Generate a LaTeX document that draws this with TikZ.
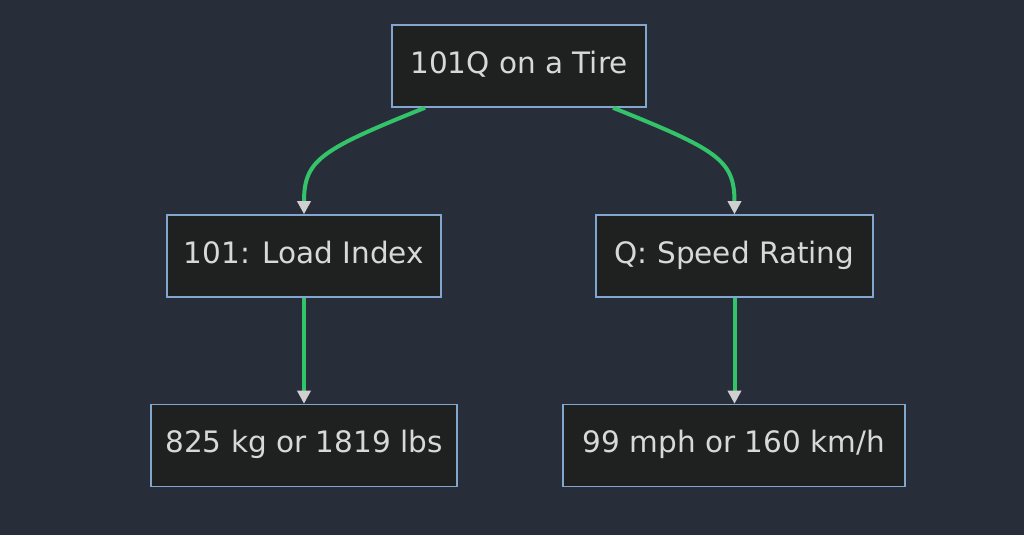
\documentclass[tikz,border=0pt]{standalone}
\usepackage{fontspec}
\setmainfont{DejaVu Sans}
\usetikzlibrary{arrows.meta}
\definecolor{bg}{HTML}{282D3A}
\definecolor{boxfill}{HTML}{1F2020}
\definecolor{boxline}{HTML}{81A6CF}
\definecolor{txt}{HTML}{D8D8D8}
\definecolor{edge}{HTML}{33C46A}
\definecolor{tip}{HTML}{D0D0D0}
\tikzset{
  box/.style={draw=boxline, line width=1.5pt, fill=boxfill, text=txt, font=\fontsize{29.5}{34}\selectfont, text height=21pt, text depth=6pt, minimum height=82pt, inner xsep=0pt, anchor=center},
  conn/.style={draw=edge, line width=4pt, -{Triangle[length=13pt,width=13pt,fill=tip,color=tip]}}
}
\begin{document}
\begin{tikzpicture}[x=1pt,y=1pt]
\fill[bg] (0,0) rectangle (1024,535);
\useasboundingbox (0,0) rectangle (1024,535);
\node[box, minimum width=254pt] (top) at (519,469) {101Q on a Tire};
\node[box, minimum width=274pt] (li) at (304,279) {101: Load Index};
\node[box, minimum width=277pt] (sr) at (734.5,279) {Q: Speed Rating};
\node[box, minimum width=306pt] (kg) at (304,89.5) {825 kg or 1819 lbs};
\node[box, minimum width=342pt] (mph) at (734,89.5) {99 mph or 160 km/h};
\draw[conn] ([xshift=-94pt]top.south) .. controls (320,385) and (304,375) .. (li.north);
\draw[conn] ([xshift=94pt]top.south) .. controls (718,385) and (734.5,375) .. (sr.north);
\draw[conn] (li.south) -- (kg.north);
\draw[conn] (sr.south) -- (sr.south |- mph.north);
\end{tikzpicture}
\end{document}
